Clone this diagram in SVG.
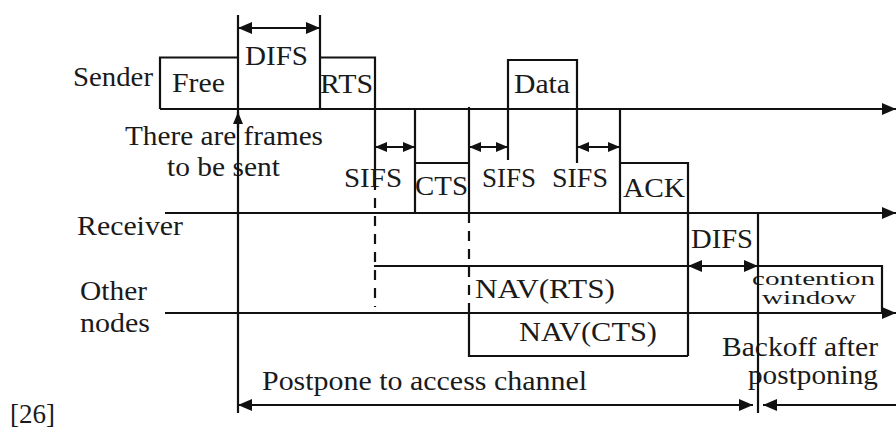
<svg xmlns="http://www.w3.org/2000/svg" width="896" height="428" viewBox="0 0 896 428">
  <style>
    text { font-family: 'Liberation Serif', 'Times New Roman', Times, serif; font-size: 27px; fill: #1a1a1a; }
    .small { font-size: 19px; }
    .ln { stroke: #111; stroke-width: 2.2; fill: none; }
    .dash { stroke: #111; stroke-width: 2.2; fill: none; stroke-dasharray: 10 8; }
    .arr { marker-end: url(#head); }
    .both { marker-start: url(#head); marker-end: url(#head); }
  </style>
  <defs>
    <marker id="head" markerUnits="userSpaceOnUse" markerWidth="14" markerHeight="12" refX="14" refY="6" orient="auto-start-reverse">
      <path d="M0,0 L14,6 L0,12 z" fill="#111"/>
    </marker>
    <marker id="small" markerUnits="userSpaceOnUse" markerWidth="12" markerHeight="10" refX="12" refY="5" orient="auto-start-reverse">
      <path d="M0,0 L12,5 L0,10 z" fill="#111"/>
    </marker>
  </defs>
  <rect width="896" height="428" fill="#fff"/>

  <!-- lane labels -->
  <g id="lane-labels">
    <text x="73" y="86" textLength="80" lengthAdjust="spacingAndGlyphs">Sender</text>
    <text x="77" y="235" textLength="106" lengthAdjust="spacingAndGlyphs">Receiver</text>
    <text x="80" y="300" textLength="67" lengthAdjust="spacingAndGlyphs">Other</text>
    <text x="80" y="332" textLength="70" lengthAdjust="spacingAndGlyphs">nodes</text>
    <text x="10" y="423" textLength="45" lengthAdjust="spacingAndGlyphs">[26]</text>
  </g>

  <!-- sender lane: Free, DIFS, RTS, Data -->
  <g id="sender">
    <path class="ln" d="M160,109 V57.5 H238"/>
    <text x="172" y="92" textLength="53" lengthAdjust="spacingAndGlyphs">Free</text>
    <path class="ln" d="M320,15 V109"/>
    <text x="245" y="65" textLength="63" lengthAdjust="spacingAndGlyphs">DIFS</text>
    <path class="ln" d="M320,57.5 H375 V180"/>
    <text x="320" y="93" textLength="53" lengthAdjust="spacingAndGlyphs">RTS</text>
    <path class="ln" d="M508,160 V60 H577 V163"/>
    <text x="514" y="93" textLength="56" lengthAdjust="spacingAndGlyphs">Data</text>
    <text x="125" y="145" textLength="198" lengthAdjust="spacingAndGlyphs">There are frames</text>
    <text x="167" y="176" textLength="113" lengthAdjust="spacingAndGlyphs">to be sent</text>
  </g>

  <!-- receiver lane: CTS, ACK -->
  <g id="receiver">
    <path class="ln" d="M415,109 V213 M415,163 H469"/>
    <path class="ln" d="M469,107 V213"/>
    <text x="415" y="195" textLength="53" lengthAdjust="spacingAndGlyphs">CTS</text>
    <path class="ln" d="M620,109 V213 M620,163 H688 V356"/>
    <text x="623" y="197" textLength="62" lengthAdjust="spacingAndGlyphs">ACK</text>
    <text x="344" y="187" textLength="58" lengthAdjust="spacingAndGlyphs">SIFS</text>
    <text x="482" y="187" textLength="54" lengthAdjust="spacingAndGlyphs">SIFS</text>
    <text x="552" y="187" textLength="56" lengthAdjust="spacingAndGlyphs">SIFS</text>
  </g>

  <!-- other nodes: NAV periods and contention window -->
  <g id="other-nodes">
    <path class="dash" d="M375,180 V307"/>
    <path class="dash" d="M469,213 V313"/>
    <path class="ln" d="M374,266 H688"/>
    <text x="475" y="298" textLength="140" lengthAdjust="spacingAndGlyphs">NAV(RTS)</text>
    <path class="ln" d="M469,313 V356 H688"/>
    <text x="519" y="341" textLength="138" lengthAdjust="spacingAndGlyphs">NAV(CTS)</text>
    <text x="691" y="248" textLength="62" lengthAdjust="spacingAndGlyphs">DIFS</text>
    <path class="ln" d="M758,266 H882 V313"/>
    <text class="small" x="752" y="285" textLength="123" lengthAdjust="spacingAndGlyphs">contention</text>
    <text class="small" x="762" y="304" textLength="94" lengthAdjust="spacingAndGlyphs">window</text>
    <text x="722" y="356" textLength="156" lengthAdjust="spacingAndGlyphs">Backoff after</text>
    <text x="748" y="384" textLength="130" lengthAdjust="spacingAndGlyphs">postponing</text>
    <text x="262" y="390" textLength="325" lengthAdjust="spacingAndGlyphs">Postpone to access channel</text>
  </g>

  <!-- time axes, markers and interval arrows -->
  <g id="connectors">
    <path class="ln arr" d="M160,109 H896"/>
    <path class="ln arr" d="M165,213 H896"/>
    <path class="ln arr" d="M165,313 H896"/>
    <path class="ln" d="M238,15 V413"/>
    <path class="ln" d="M758,213 V413"/>
    <path class="ln" d="M238,128 V112" marker-end="url(#small)"/>
    <path class="ln both" d="M238,28 H320"/>
    <path class="ln" d="M375,147 H415" marker-start="url(#small)" marker-end="url(#small)"/>
    <path class="ln" d="M469,147 H508" marker-start="url(#small)" marker-end="url(#small)"/>
    <path class="ln" d="M577,147 H620" marker-start="url(#small)" marker-end="url(#small)"/>
    <path class="ln both" d="M688,266 H758"/>
    <path class="ln both" d="M238,405 H753"/>
    <path class="ln" d="M896,405 H763" marker-end="url(#head)"/>
  </g>
</svg>
